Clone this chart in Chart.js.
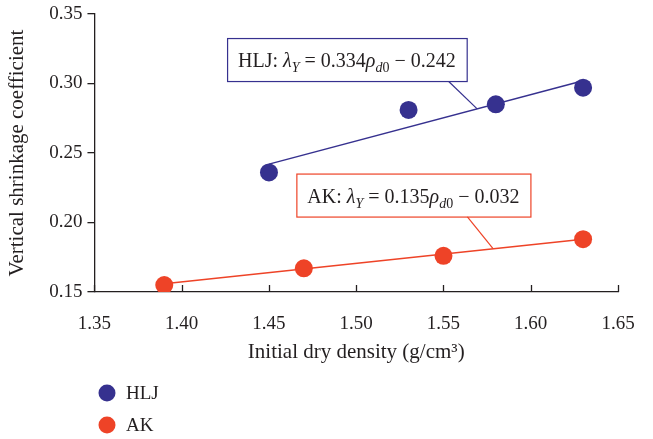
<!DOCTYPE html>
<html>
<head>
<meta charset="utf-8">
<script src="https://cdn.jsdelivr.net/npm/chart.js@4.4.1/dist/chart.umd.min.js"></script>
<style>
  html, body { margin: 0; padding: 0; background: #fff; }
  #wrap { width: 653px; height: 439px; position: relative; }
</style>
</head>
<body>
<div id="wrap"><canvas id="chart"></canvas></div>
<script>
const hljDensity = [1.45, 1.53, 1.58, 1.63];
const hljShrink = [0.236, 0.281, 0.285, 0.297];
const akDensity = [1.39, 1.47, 1.55, 1.63];
const akShrink = [0.155, 0.167, 0.176, 0.188];

// fitted line end points
const hljFitX = [1.45, 1.63];
const hljFitY = [0.242, 0.302];
const akFitX = [1.39, 1.63];
const akFitY = [0.156, 0.188];

const xTicks = [1.35, 1.40, 1.45, 1.50, 1.55, 1.60, 1.65];
const yTicks = [0.15, 0.20, 0.25, 0.30, 0.35];

const HLJ_COLOR = '#36318f';
const AK_COLOR = '#ee4327';
const INK = '#231f20';
const SERIF = '"Liberation Serif", "DejaVu Serif", serif';

const toPts = (xs, ys) => xs.map((x, i) => ({ x: x, y: ys[i] }));

// equation labels: text runs + where the box and leader sit (data units)
const equations = [
  {
    color: HLJ_COLOR,
    runs: [
      { t: 'HLJ: ' }, { t: 'λ', i: true }, { t: 'Y', i: true, sub: true },
      { t: ' = 0.334' }, { t: 'ρ', i: true }, { t: 'd', i: true, sub: true },
      { t: '0', sub: true }, { t: ' − 0.242' },
    ],
    boxX: 1.426, boxY: 0.3327, leaderFrom: 1.5527, leaderTo: 1.5693, fitX: hljFitX, fitY: hljFitY,
  },
  {
    color: AK_COLOR,
    runs: [
      { t: 'AK: ' }, { t: 'λ', i: true }, { t: 'Y', i: true, sub: true },
      { t: ' = 0.135' }, { t: 'ρ', i: true }, { t: 'd', i: true, sub: true },
      { t: '0', sub: true }, { t: ' − 0.032' },
    ],
    boxX: 1.4657, boxY: 0.2352, leaderFrom: 1.5636, leaderTo: 1.5784, fitX: akFitX, fitY: akFitY,
  },
];

function runFont(r) {
  const size = r.sub ? 14 : 20;
  return (r.i ? 'italic ' : '') + size + 'px ' + SERIF;
}

const equationPlugin = {
  id: 'equations',
  afterDatasetsDraw(chart) {
    const ctx = chart.ctx;
    const xs = chart.scales.x, ys = chart.scales.y;
    ctx.save();
    equations.forEach(eq => {
      let w = 0;
      eq.runs.forEach(r => { ctx.font = runFont(r); w += ctx.measureText(r.t).width; });
      const bx = xs.getPixelForValue(eq.boxX);
      const by = ys.getPixelForValue(eq.boxY);
      const bw = w + 22, bh = 43;
      // leader line from box bottom to fitted line
      const lx0 = xs.getPixelForValue(eq.leaderFrom);
      const lx1 = xs.getPixelForValue(eq.leaderTo);
      const t = (eq.leaderTo - eq.fitX[0]) / (eq.fitX[1] - eq.fitX[0]);
      const ly1 = ys.getPixelForValue(eq.fitY[0] + t * (eq.fitY[1] - eq.fitY[0]));
      ctx.strokeStyle = eq.color;
      ctx.lineWidth = 1.2;
      ctx.beginPath();
      ctx.moveTo(lx0, by + bh);
      ctx.lineTo(lx1, ly1);
      ctx.stroke();
      ctx.fillStyle = '#fff';
      ctx.fillRect(bx, by, bw, bh);
      ctx.strokeRect(bx + 0.5, by + 0.5, bw, bh);
      let x = bx + 11;
      const base = by + 29;
      ctx.fillStyle = INK;
      ctx.textBaseline = 'alphabetic';
      eq.runs.forEach(r => {
        ctx.font = runFont(r);
        ctx.fillText(r.t, x, r.sub ? base + 5 : base);
        x += ctx.measureText(r.t).width;
      });
    });
    ctx.restore();
  },
};

// x ticks point into the plot area
const innerTicksPlugin = {
  id: 'innerTicks',
  afterDraw(chart) {
    const ctx = chart.ctx;
    const xs = chart.scales.x;
    const bottom = chart.chartArea.bottom;
    ctx.save();
    ctx.strokeStyle = INK;
    ctx.lineWidth = 1.3;
    xTicks.forEach(v => {
      const px = Math.round(xs.getPixelForValue(v)) + 0.5;
      ctx.beginPath();
      ctx.moveTo(px, bottom);
      ctx.lineTo(px, bottom - 7);
      ctx.stroke();
    });
    ctx.restore();
  },
};

// vertical legend under the plot, markers only for measured series
const legendPlugin = {
  id: 'stackLegend',
  afterDraw(chart) {
    const ctx = chart.ctx;
    ctx.save();
    ctx.font = '19px ' + SERIF;
    ctx.textBaseline = 'middle';
    chart.data.datasets.filter(d => !d.isFit).forEach((d, i) => {
      const y = 393 + i * 32;
      ctx.fillStyle = d.backgroundColor;
      ctx.beginPath();
      ctx.arc(107, y, 8.5, 0, Math.PI * 2);
      ctx.fill();
      ctx.fillStyle = INK;
      ctx.fillText(d.label, 126, y + 1);
    });
    ctx.restore();
  },
};

new Chart(document.getElementById('chart'), {
  type: 'scatter',
  data: {
    datasets: [
      { label: 'HLJ', data: toPts(hljDensity, hljShrink), backgroundColor: HLJ_COLOR, borderColor: HLJ_COLOR,
        pointRadius: 9, pointHoverRadius: 9, borderWidth: 0, order: 1 },
      { label: 'AK', data: toPts(akDensity, akShrink), backgroundColor: AK_COLOR, borderColor: AK_COLOR,
        pointRadius: 9, pointHoverRadius: 9, borderWidth: 0, order: 1 },
      { label: 'HLJ fit', isFit: true, data: toPts(hljFitX, hljFitY), showLine: true, borderColor: HLJ_COLOR,
        backgroundColor: HLJ_COLOR, borderWidth: 1.5, pointRadius: 0, order: 2 },
      { label: 'AK fit', isFit: true, data: toPts(akFitX, akFitY), showLine: true, borderColor: AK_COLOR,
        backgroundColor: AK_COLOR, borderWidth: 1.5, pointRadius: 0, order: 2 },
    ],
  },
  options: {
    responsive: true,
    maintainAspectRatio: false,
    animation: false,
    layout: { padding: { left: 5, top: 14, right: 35, bottom: 74 } },
    plugins: {
      legend: { display: false },
      tooltip: { enabled: false },
    },
    scales: {
      x: {
        type: 'linear',
        min: xTicks[0],
        max: xTicks[xTicks.length - 1],
        afterBuildTicks: axis => { axis.ticks = xTicks.map(v => ({ value: v })); },
        afterFit: axis => { axis.paddingRight = 0; },
        ticks: {
          color: INK, padding: 21, maxRotation: 0,
          font: { family: SERIF, size: 19 },
          callback: v => v.toFixed(2),
        },
        grid: { drawOnChartArea: false, drawTicks: false },
        border: { color: INK, width: 1.3 },
        title: {
          display: true, text: 'Initial dry density (g/cm³)', color: INK,
          font: { family: SERIF, size: 21 }, padding: { top: -17, bottom: 0 },
        },
      },
      y: {
        type: 'linear',
        min: yTicks[0],
        max: yTicks[yTicks.length - 1],
        afterBuildTicks: axis => { axis.ticks = yTicks.map(v => ({ value: v })); },
        afterFit: axis => { axis.paddingTop = 0; },
        ticks: {
          color: INK, padding: 5,
          font: { family: SERIF, size: 19 },
          callback: v => v.toFixed(2),
        },
        grid: { drawOnChartArea: false, drawTicks: true, tickLength: 7, color: INK, lineWidth: 1.3 },
        border: { color: INK, width: 1.3 },
        title: {
          display: true, text: 'Vertical shrinkage coefficient', color: INK,
          font: { family: SERIF, size: 21 }, padding: { top: 0, bottom: 14 },
        },
      },
    },
  },
  plugins: [equationPlugin, innerTicksPlugin, legendPlugin],
});
</script>
</body>
</html>
